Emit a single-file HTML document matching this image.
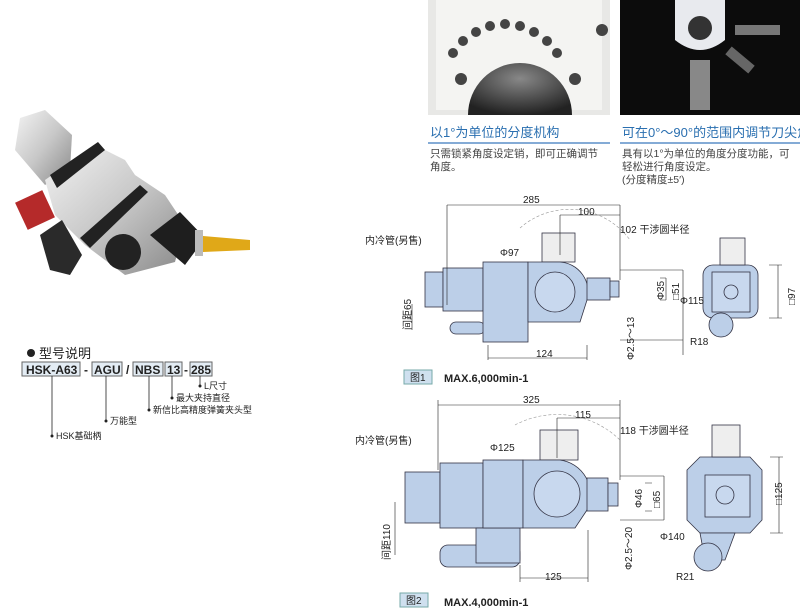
<!DOCTYPE html>
<html><head><meta charset="utf-8"><style>
body{margin:0;background:#fff;}
svg text{font-family:"Liberation Sans","Noto Sans CJK SC",sans-serif;}
</style></head><body>
<svg width="800" height="609" viewBox="0 0 800 609" xmlns="http://www.w3.org/2000/svg">
<defs>
<radialGradient id="dk" cx="0.5" cy="0.3" r="0.7"><stop offset="0" stop-color="#888"/><stop offset="1" stop-color="#222"/></radialGradient>
<linearGradient id="mt" x1="0" y1="0" x2="1" y2="1"><stop offset="0" stop-color="#f4f4f4"/><stop offset="0.5" stop-color="#c8c8c8"/><stop offset="1" stop-color="#888"/></linearGradient>
</defs>
<!-- top photos -->
<rect x="428" y="0" width="182" height="115" fill="#e8e8e6"/>
<rect x="436" y="0" width="166" height="110" fill="#f4f4f2"/>
<path d="M468,115 A52,52 0 0 1 572,115 Z" fill="url(#dk)"/>
<g fill="#444"><circle cx="453" cy="53" r="5"/><circle cx="463" cy="41" r="5"/><circle cx="476" cy="32" r="5"/><circle cx="490" cy="26" r="5"/><circle cx="505" cy="24" r="5"/><circle cx="520" cy="26" r="5"/><circle cx="534" cy="32" r="5"/><circle cx="547" cy="41" r="5"/><circle cx="557" cy="53" r="5"/><circle cx="461" cy="79" r="6"/><circle cx="575" cy="79" r="6"/><circle cx="602" cy="30" r="6"/></g>
<rect x="620" y="0" width="180" height="115" fill="#0c0c0c"/>
<path d="M675,0 H725 V40 Q700,60 675,40 Z" fill="#e8eaee"/>
<circle cx="700" cy="28" r="12" fill="#333"/>
<rect x="690" y="60" width="20" height="50" fill="#888"/>
<rect x="735" y="25" width="45" height="10" fill="#777"/>
<rect x="725" y="55" width="30" height="10" fill="#666" transform="rotate(40 740 60)"/>
<text x="430" y="137" font-size="13" fill="#2a6fb0">以1°为单位的分度机构</text>
<line x1="428" y1="143" x2="610" y2="143" stroke="#5b8fc8" stroke-width="1.5"/>
<text x="430" y="157" font-size="10.5" fill="#444">只需锁紧角度设定销，即可正确调节</text>
<text x="430" y="170" font-size="10.5" fill="#444">角度。</text>
<text x="622" y="137" font-size="13" fill="#2a6fb0">可在0°～90°的范围内调节刀尖角度</text>
<line x1="620" y1="143" x2="800" y2="143" stroke="#5b8fc8" stroke-width="1.5"/>
<text x="622" y="157" font-size="10.5" fill="#444">具有以1°为单位的角度分度功能，可</text>
<text x="622" y="170" font-size="10.5" fill="#444">轻松进行角度设定。</text>
<text x="622" y="183" font-size="10.5" fill="#444">(分度精度±5′)</text>
<!-- product photo -->
<g>
<path d="M20,118 L45,110 L72,135 L70,170 L45,185 L15,150 Z" fill="url(#mt)"/>
<path d="M45,180 L95,145 L125,160 L135,175 L165,195 L185,225 L175,262 L125,275 L85,245 L55,215 Z" fill="url(#mt)"/>
<path d="M50,175 L98,142 L105,150 L57,188 Z" fill="#222"/>
<path d="M80,238 L140,185 L148,192 L90,248 Z" fill="#222"/>
<circle cx="123" cy="252" r="18" fill="#222"/>
<path d="M150,235 L180,212 L205,238 L185,265 Z" fill="#1e1e1e"/>
<rect x="195" y="230" width="8" height="26" fill="#bbb"/>
<path d="M203,236 L250,240 L250,250 L203,252 Z" fill="#e0a818"/>
<rect x="20" y="195" width="30" height="30" fill="#b52a2a" transform="rotate(-25 35 210)"/>
<path d="M40,235 L62,220 L82,255 L70,275 L50,270 Z" fill="#2a2a2a"/>
</g>
<!-- model description -->
<circle cx="31" cy="353" r="4" fill="#222"/>
<text x="39" y="358" font-size="13" fill="#222">型号说明</text>
<g font-size="12" font-weight="bold" fill="#222">
<rect x="22" y="362" width="58" height="14" fill="#e3ecf4" stroke="#666"/><text x="26" y="374">HSK-A63</text>
<text x="84" y="374">-</text>
<rect x="92" y="362" width="30" height="14" fill="#e3ecf4" stroke="#666"/><text x="94" y="374">AGU</text>
<text x="126" y="374">/</text>
<rect x="133" y="362" width="30" height="14" fill="#e3ecf4" stroke="#666"/><text x="135" y="374">NBS</text>
<rect x="165" y="362" width="17" height="14" fill="#e3ecf4" stroke="#666"/><text x="167" y="374">13</text>
<text x="184" y="374">-</text>
<rect x="190" y="362" width="22" height="14" fill="#e3ecf4" stroke="#666"/><text x="191" y="374">285</text>
</g>
<g stroke="#222" fill="none" stroke-width="0.8">
<path d="M52,376V436"/><path d="M106,376V421"/><path d="M149,376V410"/><path d="M172,376V398"/><path d="M200,376V386"/>
</g>
<g fill="#222" font-size="9">
<circle cx="52" cy="436" r="1.5"/><text x="56" y="439">HSK基础柄</text>
<circle cx="106" cy="421" r="1.5"/><text x="110" y="424">万能型</text>
<circle cx="149" cy="410" r="1.5"/><text x="153" y="413">新信比高精度弹簧夹头型</text>
<circle cx="172" cy="398" r="1.5"/><text x="176" y="401">最大夹持直径</text>
<circle cx="200" cy="386" r="1.5"/><text x="204" y="389">L尺寸</text>
</g>
<!-- Drawing 1 -->
<g fill="#bccfe8" stroke="#334" stroke-width="0.8">
<rect x="542" y="233" width="33" height="29" fill="#eee"/>
<rect x="425" y="272" width="18" height="35"/>
<rect x="443" y="268" width="40" height="43"/>
<rect x="450" y="322" width="35" height="12" rx="6"/>
<rect x="483" y="262" width="45" height="80"/>
<path d="M528,262 H560 A30,30 0 0 1 587,300 L580,322 H528 Z"/>
<rect x="587" y="278" width="23" height="22"/>
<rect x="610" y="281" width="9" height="16"/>
<circle cx="555" cy="292" r="20" fill="#c8d8ee"/>
<rect x="703" y="265" width="55" height="53" rx="10"/>
<rect x="720" y="238" width="25" height="27" fill="#eee"/>
<circle cx="721" cy="325" r="12"/>
<rect x="712" y="272" width="38" height="40" fill="#c8d8ee"/>
<circle cx="731" cy="292" r="7" fill="none"/>
</g>
<g stroke="#222" stroke-width="0.6" fill="none">
<path d="M447,205V305 M620,205V280 M447,205H620 M560,215V255 M560,215H620"/>
<path d="M412,304V330 M660,278H666 M660,300H666 M666,278V300 M683,270V355 M620,270H683 M620,340H683 M488,345V360 M587,345V360 M488,358H587"/>
<path d="M769,265H782 M769,318H782 M778,265V318"/>
<path d="M520,228 A75,75 0 0 1 630,240" stroke-dasharray="3,2" stroke="#999"/>
</g>
<g font-size="10" fill="#222">
<text x="523" y="203">285</text><text x="578" y="215">100</text>
<text x="620" y="233">102 干涉圆半径</text>
<text x="365" y="244">内冷管(另售)</text>
<text x="500" y="256">Φ97</text>
<text x="536" y="357">124</text>
<text x="680" y="304">Φ115</text>
<text x="690" y="345">R18</text>
<text transform="translate(411,330) rotate(-90)">间距65</text>
<text transform="translate(664,300) rotate(-90)">Φ35</text>
<text transform="translate(679,300) rotate(-90)">□51</text>
<text transform="translate(634,360) rotate(-90)">Φ2.5～13</text>
<text transform="translate(795,305) rotate(-90)">□97</text>
</g>
<rect x="404" y="370" width="28" height="14" fill="#cfe0ef" stroke="#7aa"/>
<text x="410" y="381" font-size="10" fill="#222">图1</text>
<text x="444" y="382" font-size="11" font-weight="bold" fill="#222">MAX.6,000min-1</text>
<!-- Drawing 2 -->
<g fill="#bccfe8" stroke="#334" stroke-width="0.8">
<rect x="540" y="430" width="38" height="30" fill="#eee"/>
<rect x="405" y="472" width="35" height="51"/>
<rect x="440" y="463" width="43" height="65"/>
<rect x="440" y="545" width="80" height="22" rx="8"/>
<rect x="476" y="528" width="44" height="35"/>
<rect x="483" y="460" width="40" height="68"/>
<path d="M523,460 H560 A35,35 0 0 1 587,510 L575,528 H523 Z"/>
<rect x="587" y="478" width="21" height="33"/>
<rect x="608" y="483" width="10" height="23"/>
<circle cx="557" cy="494" r="23" fill="#c8d8ee"/>
<path d="M700,457 H750 L762,470 V520 L750,533 H700 L687,520 V470 Z"/>
<rect x="712" y="425" width="28" height="32" fill="#eee"/>
<path d="M700,533 L735,533 L725,560 L705,560 Z"/>
<circle cx="708" cy="557" r="14"/>
<rect x="705" y="475" width="45" height="42" fill="#c8d8ee"/>
<circle cx="725" cy="495" r="9" fill="none"/>
</g>
<g stroke="#222" stroke-width="0.6" fill="none">
<path d="M438,400V470 M620,400V480 M438,405H620 M557,418V458 M557,418H620"/>
<path d="M395,502V555 M645,483H652 M645,511H652 M664,476V520 M620,476H664 M620,520H664 M520,565V582 M588,530V582 M520,578H588"/>
<path d="M770,457H783 M770,533H783 M779,457V533"/>
<path d="M515,425 A90,90 0 0 1 620,440" stroke-dasharray="3,2" stroke="#999"/>
</g>
<g font-size="10" fill="#222">
<text x="523" y="403">325</text><text x="575" y="418">115</text>
<text x="620" y="434">118 干涉圆半径</text>
<text x="355" y="444">内冷管(另售)</text>
<text x="490" y="451">Φ125</text>
<text x="545" y="580">125</text>
<text x="660" y="540">Φ140</text>
<text x="676" y="580">R21</text>
<text transform="translate(390,560) rotate(-90)">间距110</text>
<text transform="translate(642,508) rotate(-90)">Φ46</text>
<text transform="translate(660,508) rotate(-90)">□65</text>
<text transform="translate(632,570) rotate(-90)">Φ2.5～20</text>
<text transform="translate(782,505) rotate(-90)">□125</text>
</g>
<rect x="400" y="593" width="28" height="14" fill="#cfe0ef" stroke="#7aa"/>
<text x="406" y="604" font-size="10" fill="#222">图2</text>
<text x="444" y="606" font-size="11" font-weight="bold" fill="#222">MAX.4,000min-1</text>
</svg>
</body></html>
